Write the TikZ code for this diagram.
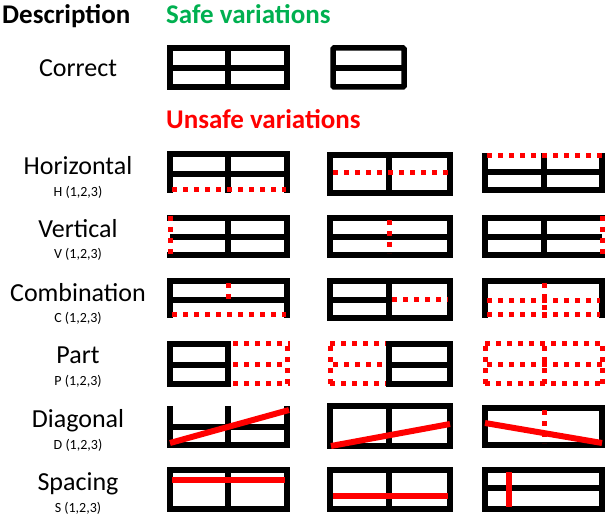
\documentclass[tikz,border=0pt]{standalone}
\usepackage{fontspec}
\setmainfont{Carlito}
\definecolor{sgreen}{RGB}{0,176,80}
\begin{document}
\begin{tikzpicture}[x=1pt,y=-1pt,
 blk/.style={line width=5.5pt,black},
 rdot/.style={line width=5pt,red,dash pattern=on 5pt off 6pt},
 rsol/.style={line width=6pt,red},
 big/.style={font=\fontsize{26}{30}\selectfont,inner sep=0pt,anchor=base},
 small/.style={font=\fontsize{14}{16}\selectfont,inner sep=0pt,anchor=base},
 head/.style={font=\fontsize{27}{31}\selectfont\bfseries,inner sep=0pt,anchor=base west}]
\useasboundingbox (0,0) rectangle (605,518);
% headings and labels
\node[head] (desc) at (2,24) {Description};
\node[head,text=sgreen] (safe) at (166,24) {Safe variations};
\node[head,text=red] (unsafe) at (166,129) {Unsafe variations};
\node[big] (correct) at (78,77) {Correct};
\node[big] (horiz) at (78,175) {Horizontal};
\node[small] (horizs) at (78,197) {H (1,2,3)};
\node[big] (vert) at (78,238) {Vertical};
\node[small] (verts) at (78,259) {V (1,2,3)};
\node[big] (comb) at (78,302) {Combination};
\node[small] (combs) at (78,323) {C (1,2,3)};
\node[big] (part) at (78,364) {Part};
\node[small] (parts) at (78,386) {P (1,2,3)};
\node[big] (diag) at (78,428) {Diagonal};
\node[small] (diags) at (78,449) {D (1,2,3)};
\node[big] (spac) at (78,490) {Spacing};
\node[small] (spacs) at (78,512) {S (1,2,3)};
% Correct
\draw[blk] (170,48) rectangle (287,87);
\draw[blk] (170,68) -- (287,68);
\draw[blk] (228,48) -- (228,87);
\draw[blk,rounded corners=1pt] (333,48) rectangle (404,87);
\draw[blk] (333,68) -- (404,68);
% Horizontal
\draw[blk] (170,193) -- (170,154) -- (287,154) -- (287,193);
\draw[blk] (170,174) -- (287,174);
\draw[blk] (228,154) -- (228,193);
\draw[rdot] (172,190) -- (286,190);
\draw[blk] (330,155) rectangle (450,193);
\draw[blk] (389,155) -- (389,193);
\draw[rdot] (333,173) -- (448,173);
\draw[blk] (485,153) -- (485,190) -- (602,190) -- (602,153);
\draw[blk] (485,172) -- (602,172);
\draw[blk] (544,153) -- (544,190);
\draw[rdot] (487,156) -- (602,156);
% Vertical
\draw[blk] (167.25,218) -- (287,218) -- (287,255) -- (167.25,255);
\draw[blk] (170,237) -- (287,237);
\draw[blk] (228,218) -- (228,255);
\draw[rdot] (170,216) -- (170,257);
\draw[blk] (330,218) rectangle (450,255);
\draw[blk] (330,237) -- (450,237);
\draw[rdot] (389,220) -- (389,253);
\draw[blk] (605,218) -- (485,218) -- (485,255) -- (605,255);
\draw[blk] (485,237) -- (602,237);
\draw[blk] (544,218) -- (544,255);
\draw[rdot] (602.5,216) -- (602.5,257);
% Combination
\draw[blk] (170,318) -- (170,281) -- (287,281) -- (287,318);
\draw[blk] (170,300) -- (287,300);
\draw[rdot] (172,315) -- (286,315);
\draw[rdot] (228,283) -- (228,300);
\draw[blk] (330,281) rectangle (450,318);
\draw[blk] (330,300) -- (389,300);
\draw[blk] (389,281) -- (389,318);
\draw[rdot] (392,300) -- (448,300);
\draw[blk] (485,318) -- (485,281) -- (602,281) -- (602,318);
\draw[rdot] (487,301) -- (600,301);
\draw[rdot] (487,315) -- (600,315);
\draw[rdot] (544,283) -- (544,318);
% Part
\draw[blk] (170,344) rectangle (228,384);
\draw[blk] (170,365) -- (228,365);
\draw[rdot] (233,344) -- (290,344);
\draw[rdot] (233,365) -- (287,365);
\draw[rdot] (233,384) -- (290,384);
\draw[rdot] (287,346) -- (287,384);
\draw[rdot] (330,344) -- (386,344);
\draw[rdot] (333,365) -- (386,365);
\draw[rdot] (330,384) -- (386,384);
\draw[rdot] (330,346) -- (330,384);
\draw[blk] (389,344) rectangle (450,384);
\draw[blk] (389,365) -- (450,365);
\draw[rdot] (485,344) -- (602,344);
\draw[rdot] (487,365) -- (602,365);
\draw[rdot] (485,384) -- (602,384);
\draw[rdot] (485,346) -- (485,384);
\draw[rdot] (602.5,346) -- (602.5,384);
\draw[rdot] (544,346) -- (544,384);
% Diagonal
\draw[blk] (170,406) -- (170,447.75);
\draw[blk] (287,406) -- (287,447.75);
\draw[blk] (228,406) -- (228,447);
\draw[blk] (170,427) -- (287,427);
\draw[blk] (167.25,445) -- (289.75,445);
\draw[rsol] (170,443) -- (289,410);
\draw[blk] (330,406) rectangle (450,446);
\draw[blk] (389,406) -- (389,446);
\draw[rsol] (331,446) -- (450,424);
\draw[blk] (485,408) rectangle (602,445);
\draw[rsol] (485,423) -- (602,443);
\draw[rdot] (544,410) -- (544,443);
% Spacing
\draw[blk] (170,470) rectangle (287,509);
\draw[blk] (228,470) -- (228,509);
\draw[rsol] (172,480) -- (285,480);
\draw[blk] (330,470) rectangle (450,509);
\draw[blk] (389,470) -- (389,509);
\draw[rsol] (333,496) -- (448,496);
\draw[blk] (485,470) rectangle (602,509);
\draw[blk] (485,488) -- (602,488);
\draw[rsol] (509,472) -- (509,507);
\end{tikzpicture}
\end{document}
